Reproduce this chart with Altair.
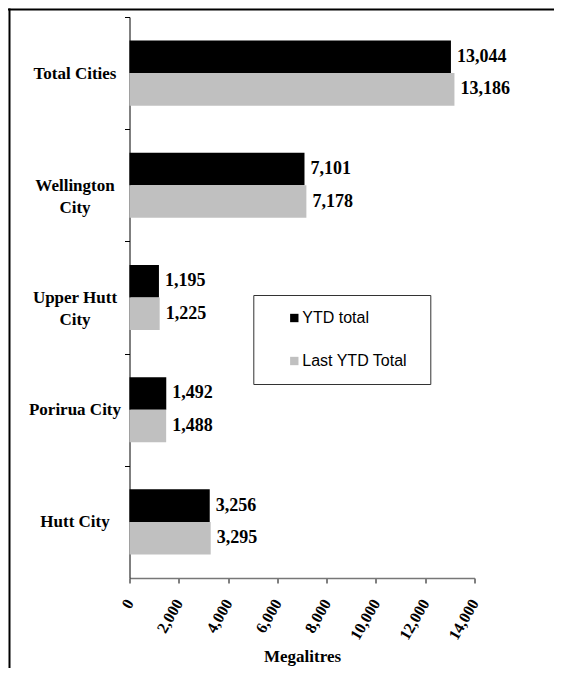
import altair as alt
import pandas as pd

cities = ["Total Cities", "Wellington City", "Upper Hutt City", "Porirua City", "Hutt City"]
series_names = ["YTD total", "Last YTD Total"]
ytd_total = [13044, 7101, 1195, 1492, 3256]
last_ytd_total = [13186, 7178, 1225, 1488, 3295]
x_ticks = [0, 2000, 4000, 6000, 8000, 10000, 12000, 14000]
colors = ["#000000", "#c0c0c0"]

rows = []
for c, a, b in zip(cities, ytd_total, last_ytd_total):
    rows.append({"city": c, "series": series_names[0], "value": a})
    rows.append({"city": c, "series": series_names[1], "value": b})
df = pd.DataFrame(rows)

SERIF = "Liberation Serif"
SANS = "Liberation Sans"
STEP = 561 / 5

y_enc = alt.Y(
    "city:N",
    sort=cities,
    scale=alt.Scale(paddingInner=0.42, paddingOuter=0.21),
    axis=alt.Axis(
        title=None,
        labelFont=SERIF,
        labelFontWeight="bold",
        labelFontSize=17,
        labelColor="black",
        labelAlign="center",
        labelBaseline="middle",
        labelPadding=50,
        labelLineHeight=22,
        tickSize=5,
        tickOffset=-STEP / 2,
        labelOffset=STEP / 2,
        tickColor="black",
        domainColor="black",
        labelExpr="datum.label == 'Wellington City' ? ['Wellington', 'City'] : datum.label == 'Upper Hutt City' ? ['Upper Hutt', 'City'] : datum.label",
    ),
)
yoff_enc = alt.YOffset("series:N", sort=series_names, scale=alt.Scale(paddingInner=0))

x_enc = alt.X(
    "value:Q",
    scale=alt.Scale(domain=[0, 14000], nice=False),
    axis=alt.Axis(
        title="Megalitres",
        values=x_ticks,
        format=",.0f",
        labelFont=SERIF,
        labelFontWeight="bold",
        labelFontSize=16,
        labelColor="black",
        labelAngle=-60,
        labelAlign="right",
        labelBaseline="middle",
        labelPadding=17,
        tickSize=5,
        tickColor="black",
        domainColor="#777777",
        domainWidth=1.5,
        grid=False,
        titleFont=SERIF,
        titleFontWeight="bold",
        titleFontSize=17,
        titleColor="black",
        titleY=83,
        titleBaseline="alphabetic",
    ),
)

bars = alt.Chart(df).mark_bar().encode(
    x=x_enc,
    y=y_enc,
    yOffset=yoff_enc,
    color=alt.Color(
        "series:N",
        sort=series_names,
        scale=alt.Scale(domain=series_names, range=colors),
        legend=alt.Legend(
            title=" ",
            titleOrient="right",
            titlePadding=8,
            orient="none",
            legendX=123.8,
            legendY=278,
            strokeColor="#333333",
            fillColor="white",
            padding=15,
            symbolType="square",
            symbolSize=70,
            symbolStrokeWidth=0,
            symbolOffset=18,
            labelOffset=0,
            labelFont=SANS,
            labelFontSize=16,
            labelColor="black",
            rowPadding=27,
        ),
    ),
)

labels = alt.Chart(df).mark_text(
    align="left", baseline="middle", dx=6,
    font=SERIF, fontWeight="bold", fontSize=18, color="black",
).encode(
    x=alt.X("value:Q"),
    y=alt.Y("city:N", sort=cities),
    yOffset=alt.YOffset("series:N", sort=series_names),
    text=alt.Text("value:Q", format=","),
)

frame_df = pd.DataFrame({"k": [0]})
frame_top = alt.Chart(frame_df).mark_rule(color="black", strokeWidth=2).encode(
    x=alt.value(-121.5), x2=alt.value(424.5), y=alt.value(-7.5)
)
frame_left = alt.Chart(frame_df).mark_rule(color="black", strokeWidth=2).encode(
    x=alt.value(-120), y=alt.value(-8.5), y2=alt.value(651)
)

chart = alt.layer(bars, labels, frame_top, frame_left).properties(
    width=345,
    height=561,
    autosize=alt.AutoSizeParams(type="none"),
    padding={"left": 121.5, "top": 9, "right": 79.5, "bottom": 90},
    background="white",
).configure_view(stroke=None)

chart.save("out.html", embed_options={"renderer": "svg", "actions": False})
